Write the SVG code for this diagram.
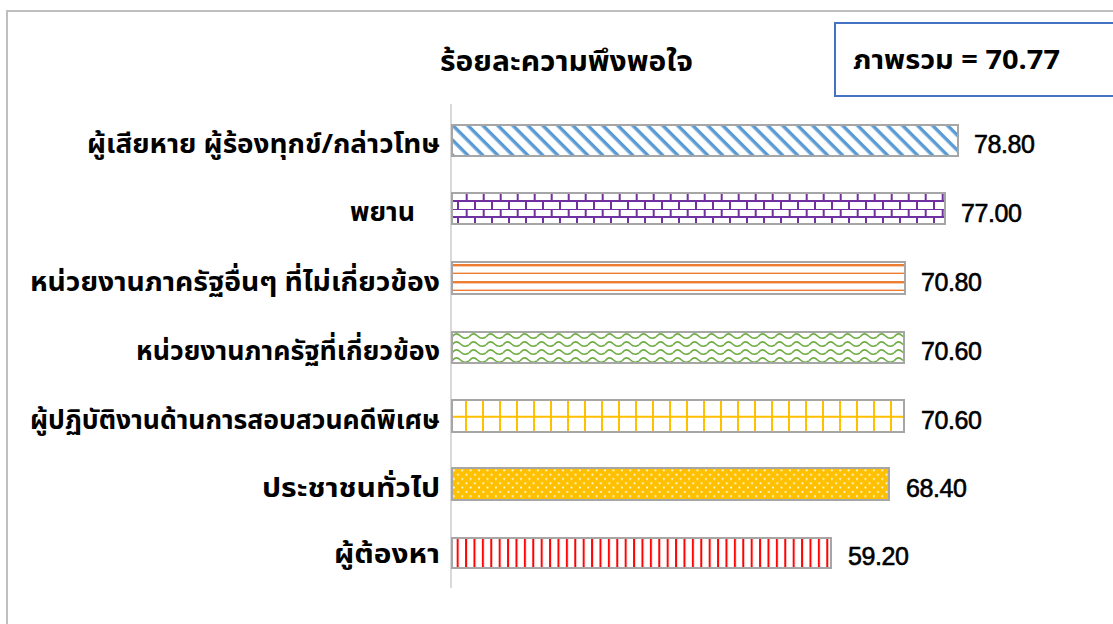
<svg xmlns="http://www.w3.org/2000/svg" width="1113" height="624" viewBox="0 0 1113 624">
<style>
.lbl{font-family:"Noto Sans Thai","Leelawadee UI",Tahoma,"Noto Sans","DejaVu Sans",sans-serif;font-weight:bold;font-size:27px;fill:#000;text-anchor:end}
.val{font-family:"Liberation Sans",Arial,sans-serif;font-size:25px;fill:#000;stroke:#000;stroke-width:0.6}
.title{font-family:"Noto Sans Thai","Leelawadee UI",Tahoma,"Noto Sans","DejaVu Sans",sans-serif;font-weight:bold;font-size:28px;fill:#000;text-anchor:middle}
.bar{stroke:#a6a6a6;stroke-width:2}
</style>
<defs>
<pattern id="p1" patternUnits="userSpaceOnUse" width="10.6" height="10.6" patternTransform="rotate(45)">
<rect width="10.6" height="10.6" fill="#fff"/><rect width="10.6" height="3.4" fill="#5b9bd5"/>
</pattern>
<pattern id="p2" patternUnits="userSpaceOnUse" x="452" y="193" width="17" height="16">
<rect width="17" height="16" fill="#fff"/>
<path d="M0,0H17M0,8H17M14.7,0V8M6,8V16" stroke="#7030a0" stroke-width="2" fill="none"/>
</pattern>
<pattern id="p3" patternUnits="userSpaceOnUse" x="452" y="262" width="17" height="17">
<rect width="17" height="17" fill="#fff"/>
<rect y="2" width="17" height="2.4" fill="#ed7d31"/><rect y="10.6" width="17" height="1.4" fill="#ed7d31"/>
</pattern>
<pattern id="p4" patternUnits="userSpaceOnUse" x="452" y="332" width="17" height="8">
<rect width="17" height="8" fill="#fff"/>
<path d="M0,5 C3,1 5.5,1 8.5,4 C11.5,7 14,7 17,5" stroke="#70ad47" stroke-width="1.6" fill="none"/>
</pattern>
<pattern id="p5" patternUnits="userSpaceOnUse" x="452" y="400" width="17" height="32">
<rect width="17" height="32" fill="#fff"/>
<path d="M14,0V32M0,16.7H17" stroke="#ffc000" stroke-width="2" fill="none"/>
</pattern>
<pattern id="p6" patternUnits="userSpaceOnUse" x="452" y="468" width="8.4" height="8.6">
<rect width="8.4" height="8.6" fill="#ffc000"/>
<rect x="1" y="1.5" width="1.7" height="1.7" fill="#fff"/><rect x="5.2" y="5.8" width="1.7" height="1.7" fill="#fff"/>
</pattern>
<pattern id="p7" patternUnits="userSpaceOnUse" x="452" y="538" width="8.4" height="30">
<rect width="8.4" height="30" fill="#fff"/>
<rect x="4.7" width="2" height="30" fill="#ff0000"/>
</pattern>
</defs>
<rect width="1113" height="624" fill="#fff"/>
<path d="M7,624V11H1113" stroke="#bfbfbf" stroke-width="2" fill="none"/>
<text class="title" x="566.5" y="71" textLength="253" lengthAdjust="spacingAndGlyphs">ร้อยละความพึงพอใจ</text>
<g id="summary">
<rect x="835" y="23" width="290" height="73" fill="#fff" stroke="#4472c4" stroke-width="2"/>
<text x="853" y="69" font-family="'Noto Sans Thai','Leelawadee UI',Tahoma,'Noto Sans','DejaVu Sans',sans-serif" font-size="26" font-weight="bold" textLength="207" lengthAdjust="spacingAndGlyphs">ภาพรวม = 70.77</text>
</g>
<g id="connectors">
<line x1="451" y1="104" x2="451" y2="588" stroke="#d9d9d9" stroke-width="2"/>
</g>
<g id="bar1"><rect class="bar" x="452" y="125" width="506" height="31" fill="url(#p1)"/><text class="lbl" x="440" y="153" textLength="353" lengthAdjust="spacingAndGlyphs">ผู้เสียหาย ผู้ร้องทุกข์/กล่าวโทษ</text><text class="val" x="974" y="153" textLength="61">78.80</text></g>
<g id="bar2"><rect class="bar" x="452" y="193" width="493" height="31" fill="url(#p2)"/><text class="lbl" x="415" y="221" textLength="65" lengthAdjust="spacingAndGlyphs">พยาน</text><text class="val" x="961" y="222" textLength="61">77.00</text></g>
<g id="bar3"><rect class="bar" x="452" y="262" width="453" height="32" fill="url(#p3)"/><text class="lbl" x="440" y="291" textLength="410" lengthAdjust="spacingAndGlyphs">หน่วยงานภาครัฐอื่นๆ ที่ไม่เกี่ยวข้อง</text><text class="val" x="921" y="291" textLength="61">70.80</text></g>
<g id="bar4"><rect class="bar" x="452" y="332" width="452" height="31" fill="url(#p4)"/><text class="lbl" x="440" y="360" textLength="304" lengthAdjust="spacingAndGlyphs">หน่วยงานภาครัฐที่เกี่ยวข้อง</text><text class="val" x="921" y="360" textLength="61">70.60</text></g>
<g id="bar5"><rect class="bar" x="452" y="400" width="452" height="32" fill="url(#p5)"/><text class="lbl" x="440" y="429" textLength="410" lengthAdjust="spacingAndGlyphs">ผู้ปฏิบัติงานด้านการสอบสวนคดีพิเศษ</text><text class="val" x="921" y="429" textLength="61">70.60</text></g>
<g id="bar6"><rect class="bar" x="452" y="468" width="437" height="32" fill="url(#p6)"/><text class="lbl" x="440" y="497" textLength="178" lengthAdjust="spacingAndGlyphs">ประชาชนทั่วไป</text><text class="val" x="906" y="497" textLength="61">68.40</text></g>
<g id="bar7"><rect class="bar" x="452" y="538" width="379" height="30" fill="url(#p7)"/><text class="lbl" x="440" y="563" textLength="106" lengthAdjust="spacingAndGlyphs">ผู้ต้องหา</text><text class="val" x="848" y="565" textLength="61">59.20</text></g>
</svg>
